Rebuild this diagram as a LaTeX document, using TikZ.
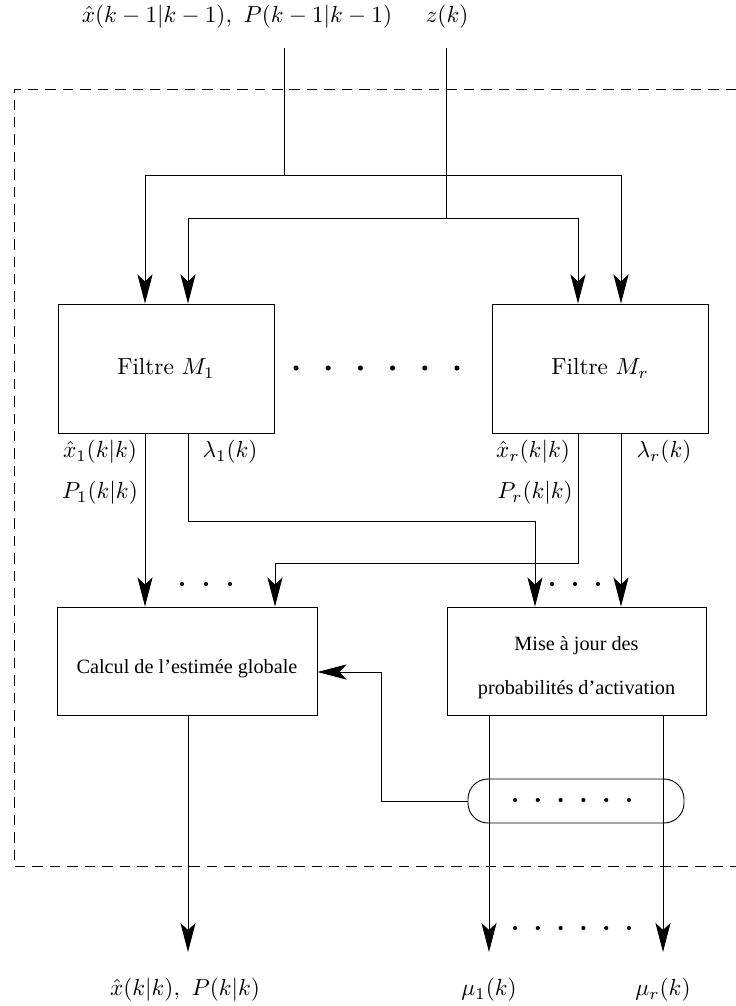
\documentclass[tikz,border=0pt]{standalone}
\usepackage{fontspec}
\newfontfamily\tms{Liberation Serif}
\usetikzlibrary{arrows.meta}
\begin{document}
\begin{tikzpicture}[x=0.43pt,y=-0.43pt,line width=0.4pt,
  arr/.style={-{Stealth[length=12.5pt,width=6.5pt,inset=3pt]}},
  blk/.style={draw,inner sep=0pt},
  tbox/.style={blk,minimum height=46.44pt,font=\tms\fontsize{8.7}{10.5}\selectfont},
  lbl/.style={inner sep=0pt},
  dashbox/.style={dash pattern=on 4.5pt off 3pt}]
\useasboundingbox (0,0) rectangle (736,1006);
% dashed frame
\draw[dashbox] (736,89) -- (14,89) -- (14,866) -- (736,866);
% top labels
\node[lbl] (in1) at (237,17) {$\hat{x}(k-1|k-1),\ P(k-1|k-1)$};
\node[lbl] (inz) at (447,17) {$z(k)$};
% blocks
\node[blk,minimum width=92.88pt,minimum height=55.47pt] (f1) at (166,368.5) {Filtre $M_1$};
\node[blk,minimum width=92.88pt,minimum height=55.47pt] (fr) at (600,368.5) {Filtre $M_r$};
\node[tbox,minimum width=111.8pt,text height=11.3pt,text depth=0.4pt] (calc) at (187,661) {Calcul de l’estimée globale};
\node[tbox,minimum width=111.37pt,text height=10.2pt,text depth=0pt] (mise) at (576.5,661)
  {\begin{tabular}{@{}c@{}}Mise à jour des\\[8.5pt]probabilités d’activation\end{tabular}};
\node[draw,rounded corners=8.6pt,minimum width=92.88pt,minimum height=18.92pt,inner sep=0pt] (rb) at (576,801) {};
% helper coordinates
\coordinate (ta) at (284,48);
\coordinate (tb) at (446,48);
\coordinate (ja) at (284,175);
\coordinate (jb) at (446,218);
\coordinate (xa) at (145,0);
\coordinate (xb) at (188,0);
\coordinate (xc) at (578,0);
\coordinate (xd) at (621,0);
\coordinate (xe) at (275,0);
\coordinate (xf) at (535,0);
\coordinate (xg) at (489,0);
\coordinate (xh) at (663,0);
\coordinate (xk) at (381,0);
\coordinate (ya) at (0,521);
\coordinate (yb) at (0,563);
\coordinate (yk) at (0,672);
\coordinate (yend) at (0,952);
% input lines
\draw (ta) -- (ja);
\draw (tb) -- (jb);
\draw[arr] (ja) -| (xa |- f1.north);
\draw[arr] (ja) -| (xd |- fr.north);
\draw[arr] (jb) -| (xb |- f1.north);
\draw[arr] (jb) -| (xc |- fr.north);
% filter outputs
\draw[arr] (xa |- f1.south) -- (xa |- calc.north);
\draw[arr] (xb |- f1.south) -- (xb |- ya) -- (xf |- ya) -- (xf |- mise.north);
\draw[arr] (xc |- fr.south) -- (xc |- yb) -- (xe |- yb) -- (xe |- calc.north);
\draw[arr] (xd |- fr.south) -- (xd |- mise.north);
% outputs
\draw[arr] (xb |- calc.south) -- (xb |- yend);
\draw[arr] (xg |- mise.south) -- (xg |- yend);
\draw[arr] (xh |- mise.south) -- (xh |- yend);
% feedback
\draw[arr] (rb.west) -| (xk |- yk) -- (calc.east |- yk);
% labels
\node[lbl] (l1) at (100,452) {$\hat{x}_1(k|k)$};
\node[lbl] (l2) at (230,452) {$\lambda_1(k)$};
\node[lbl] (l3) at (100,493) {$P_1(k|k)$};
\node[lbl] (l4) at (533,452) {$\hat{x}_r(k|k)$};
\node[lbl] (l5) at (664,452) {$\lambda_r(k)$};
\node[lbl] (l6) at (535,493) {$P_r(k|k)$};
\node[lbl] (o1) at (185,990) {$\hat{x}(k|k),\ P(k|k)$};
\node[lbl] (o2) at (489,990) {$\mu_1(k)$};
\node[lbl] (o3) at (663,990) {$\mu_r(k)$};
% dots
\foreach \i in {0,...,5} \fill (296+32.2*\i,368) circle (1.1pt);
\foreach \i in {0,...,2} \fill (182+24*\i,584) circle (0.9pt);
\foreach \i in {0,...,2} \fill (552+23*\i,584) circle (0.9pt);
\foreach \i in {0,...,5} \fill (515+22.8*\i,800) circle (0.9pt);
\foreach \i in {0,...,5} \fill (515+22.8*\i,928) circle (0.9pt);
\end{tikzpicture}
\end{document}
